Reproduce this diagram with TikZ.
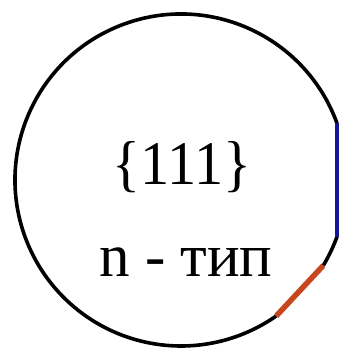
\documentclass[tikz,border=0pt]{standalone}
\usepackage{fontspec}
\setmainfont{Liberation Serif}
\definecolor{flatblue}{RGB}{20,20,150}
\definecolor{flatred}{RGB}{200,70,30}
\tikzset{
  waferline/.style={line width=3.6pt, black},
  primaryflat/.style={line width=4.5pt, flatblue},
  secondaryflat/.style={line width=5.5pt, flatred},
  lbl/.style={anchor=base, inner sep=0pt}
}
\begin{document}
\begin{tikzpicture}[x=1pt,y=1pt]
\useasboundingbox (0,0) rectangle (345,350);
\coordinate (c) at (181,170);
\coordinate (b1) at ([shift={(20:166pt)}]c);
\coordinate (b2) at ([shift={(-20:166pt)}]c);
\coordinate (r1) at ([shift={(-31:166pt)}]c);
\coordinate (r2) at ([shift={(-55:166pt)}]c);
% black arc: from primary flat top, over the top, left and bottom to the secondary flat
\draw[waferline] (b1) arc[start angle=20, end angle=305, radius=166pt];
\draw[waferline] (r1) arc[start angle=-31, end angle=-20, radius=166pt];
% flats
\draw[primaryflat] (b1) -- (b2);
\draw[secondaryflat] (r1) -- (r2);
\node[lbl, font=\fontsize{62}{64}\selectfont, xscale=0.94] (plane) at (182,165) {\{111\}};
\node[lbl, font=\fontsize{61}{63}\selectfont] (type) at (186,73) {n - тип};
\end{tikzpicture}
\end{document}
